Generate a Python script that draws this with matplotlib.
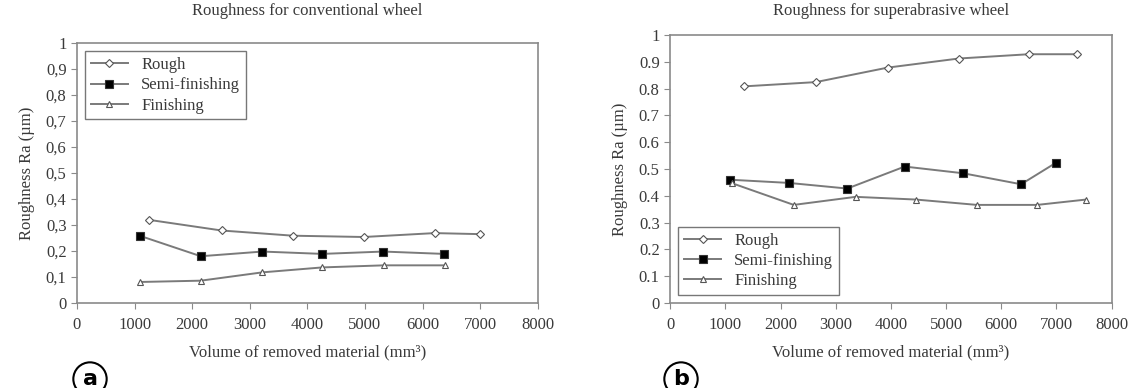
import matplotlib.pyplot as plt
from matplotlib.ticker import FuncFormatter

plt.rcParams['font.family'] = ['Liberation Serif', 'DejaVu Serif']

# (a) rueda convencional
conv_rough_x = [1250, 2510, 3750, 4980, 6210, 7000]
conv_rough_y = [0.32, 0.279, 0.259, 0.254, 0.269, 0.265]
conv_semi_x = [1100, 2150, 3220, 4260, 5320, 6370]
conv_semi_y = [0.258, 0.18, 0.198, 0.189, 0.198, 0.189]
conv_fin_x = [1100, 2150, 3220, 4260, 5330, 6390]
conv_fin_y = [0.081, 0.086, 0.118, 0.137, 0.145, 0.145]

# (b) rueda superabrasiva
sup_rough_x = [1330, 2640, 3940, 5230, 6500, 7370]
sup_rough_y = [0.808, 0.824, 0.878, 0.912, 0.928, 0.928]
sup_semi_x = [1080, 2150, 3210, 4250, 5310, 6360, 6990]
sup_semi_y = [0.46, 0.448, 0.427, 0.509, 0.484, 0.443, 0.523]
sup_fin_x = [1120, 2240, 3360, 4450, 5560, 6650, 7540]
sup_fin_y = [0.447, 0.366, 0.396, 0.386, 0.366, 0.366, 0.386]

series_names = ["Rough", "Semi-finishing", "Finishing"]

gris = "#7a7a7a"
texto = "#3a3a3a"
fs = 12

fig = plt.figure(figsize=(11.32, 3.88), dpi=100)
ax1 = fig.add_axes([0.068, 0.219, 0.407, 0.670])
ax2 = fig.add_axes([0.592, 0.219, 0.390, 0.691])


def dibujar(ax, datos):
    estilos = [("D", "white", 4), ("s", "black", 5.5), ("^", "white", 5)]
    for (x, y), nombre, (m, fc, ms) in zip(datos, series_names, estilos):
        ax.plot(x, y, color=gris, linewidth=1.4, marker=m, markersize=ms,
                markerfacecolor=fc, markeredgecolor="#333333" if fc == "black" else "#555555",
                markeredgewidth=0.8, label=nombre)
    ax.set_xlim(0, 8000)
    ax.set_ylim(0, 1)
    ax.set_xticks(range(0, 8001, 1000))
    ax.set_yticks([i / 10 for i in range(11)])
    for s in ax.spines.values():
        s.set_color("#8a8a8a")
        s.set_linewidth(1.2)
    ax.tick_params(colors=texto, labelsize=fs, length=4, color="#8a8a8a")
    ax.tick_params(axis="x", pad=6)
    ax.set_xlabel("Volume of removed material (mm\u00b3)", fontsize=fs, color=texto, labelpad=8)
    ax.set_ylabel("Roughness Ra (\u00b5m)", fontsize=fs, color=texto, labelpad=8)


dibujar(ax1, [(conv_rough_x, conv_rough_y), (conv_semi_x, conv_semi_y), (conv_fin_x, conv_fin_y)])
dibujar(ax2, [(sup_rough_x, sup_rough_y), (sup_semi_x, sup_semi_y), (sup_fin_x, sup_fin_y)])

ax1.yaxis.set_major_formatter(FuncFormatter(
    lambda v, p: "0" if v == 0 else ("1" if v == 1 else ("%.1f" % v).replace(".", ","))))
ax2.yaxis.set_major_formatter(FuncFormatter(
    lambda v, p: "0" if v == 0 else ("1" if v == 1 else "%.1f" % v)))

ax1.set_title("Roughness for conventional wheel", fontsize=fs, color=texto, pad=20)
ax2.set_title("Roughness for superabrasive wheel", fontsize=fs, color=texto, pad=14)

for ax, loc in [(ax1, "upper left"), (ax2, "lower left")]:
    leg = ax.legend(loc=loc, fontsize=fs, frameon=True, fancybox=False,
                    handlelength=2.2, borderpad=0.35, labelspacing=0.25)
    leg.get_frame().set_edgecolor("#555555")
    leg.get_frame().set_linewidth(1.0)
    for t in leg.get_texts():
        t.set_color(texto)

for x, letra in [(90, "a"), (681, "b")]:
    fig.text(x / 1132, 1 - 379 / 388, letra, ha="center", va="center",
             fontsize=16, fontweight="bold", family="DejaVu Sans",
             bbox=dict(boxstyle="circle,pad=0.3", facecolor="white",
                       edgecolor="black", linewidth=1.5))

fig.savefig("out.png", dpi=100)
